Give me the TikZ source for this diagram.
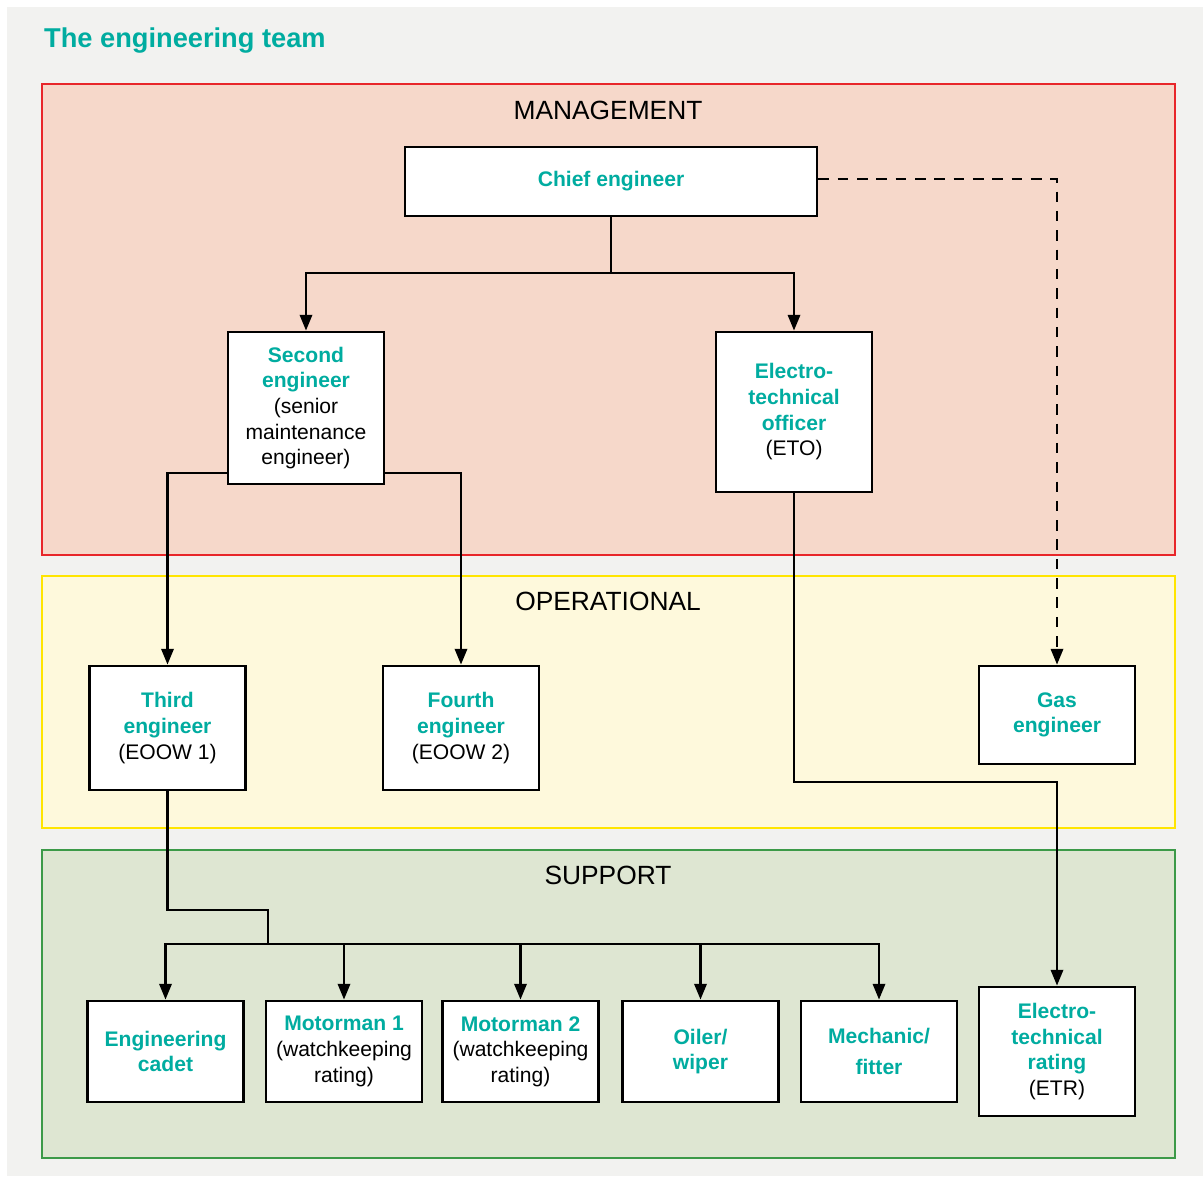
\documentclass[tikz,border=0pt]{standalone}
\usepackage{fontspec}
\setmainfont{Liberation Sans}
\usetikzlibrary{arrows.meta}

\definecolor{teamteal}{RGB}{0,172,160}
\definecolor{pagegray}{RGB}{242,242,240}
\definecolor{mgmtfill}{RGB}{246,216,202}
\definecolor{mgmtline}{RGB}{232,38,42}
\definecolor{opfill}{RGB}{254,249,220}
\definecolor{opline}{RGB}{255,229,0}
\definecolor{supfill}{RGB}{222,230,210}
\definecolor{supline}{RGB}{60,154,72}

\newcommand{\role}[1]{{\bfseries\color{teamteal}#1}}

\tikzset{
  rolebox/.style={draw, line width=1.6pt, fill=white, align=center, inner sep=1pt,
    minimum width=3.12cm, font=\fontsize{12}{14.6}\selectfont},
  band/.style={line width=1.6pt},
  bandlabel/.style={font=\fontsize{15}{18}\selectfont},
  link/.style={line width=1.4pt},
  arr/.style={link, -{Triangle[length=9pt,width=7pt]}}
}

\begin{document}
\begin{tikzpicture}[x=0.02cm,y=-0.02cm]
  \useasboundingbox (0,0) rectangle (1203,1176);
  \fill[white] (0,0) rectangle (1203,1176);
  \fill[pagegray] (7,7) rectangle (1203,1176);

  % title
  \node[anchor=west, font=\fontsize{15.5}{18}\selectfont\bfseries, text=teamteal] (title) at (38,41) {The engineering team};

  % levels
  \draw[band, draw=mgmtline, fill=mgmtfill] (42,84) rectangle (1175,555);
  \draw[band, draw=opline, fill=opfill] (42,576) rectangle (1175,828);
  \draw[band, draw=supline, fill=supfill] (42,850) rectangle (1175,1158);
  \node[bandlabel] (mgmtlabel) at (608,110) {MANAGEMENT};
  \node[bandlabel] (oplabel) at (608,601) {OPERATIONAL};
  \node[bandlabel] (suplabel) at (608,875) {SUPPORT};

  % management
  \node[rolebox, minimum width=8.24cm, minimum height=1.38cm] (chief) at (611,181.5) {\role{Chief engineer}};
  \node[rolebox, minimum height=3.04cm] (second) at (306,408) {\role{Second}\\\role{engineer}\\(senior\\maintenance\\engineer)};
  \node[rolebox, minimum height=3.2cm] (eto) at (794,412) {\role{Electro-}\\\role{technical}\\\role{officer}\\(ETO)};

  % operational
  \node[rolebox, minimum height=2.48cm] (third) at (167.5,728) {\role{Third}\\\role{engineer}\\(EOOW 1)};
  \node[rolebox, minimum height=2.48cm] (fourth) at (461,728) {\role{Fourth}\\\role{engineer}\\(EOOW 2)};
  \node[rolebox, minimum height=1.96cm] (gas) at (1057,715) {\role{Gas}\\\role{engineer}};

  % support
  \node[rolebox, minimum height=2.02cm] (cadet) at (165.5,1051.5) {\role{Engineering}\\\role{cadet}};
  \node[rolebox, minimum height=2.02cm] (motor1) at (344,1051.5) {\role{Motorman 1}\\(watchkeeping\\rating)};
  \node[rolebox, minimum height=2.02cm] (motor2) at (520.5,1051.5) {\role{Motorman 2}\\(watchkeeping\\rating)};
  \node[rolebox, minimum height=2.02cm] (oiler) at (700.5,1051.5) {\role{Oiler/}\\\role{wiper}};
  \node[rolebox, minimum height=2.02cm] (mechanic) at (879,1051.5) {\role{Mechanic/}\\[3pt]\role{fitter}};
  \node[rolebox, minimum height=2.58cm] (etr) at (1057,1051.5) {\role{Electro-}\\\role{technical}\\\role{rating}\\(ETR)};

  % connectors
  \coordinate (mgmtjoin) at (611,273);
  \coordinate (etrbend) at (1057,782);
  \coordinate (supjoin) at (268,944);
  \draw[link] (chief) -- (mgmtjoin);
  \draw[arr] (mgmtjoin) -| (second);
  \draw[arr] (mgmtjoin) -| (eto);
  \draw[arr] (second.west |- 0,473) -| (third);
  \draw[arr] (second.east |- 0,473) -| (fourth);
  \draw[arr, dashed, dash pattern=on 6pt off 5pt] (chief.east |- 0,179) -| (gas);
  \draw[arr] (eto) |- (etrbend) -- (etr);
  \draw[link] (third) |- (268,910) -- (supjoin);
  \foreach \n in {cadet,motor1,motor2,oiler,mechanic}
    \draw[arr] (supjoin) -| (\n);
\end{tikzpicture}
\end{document}
